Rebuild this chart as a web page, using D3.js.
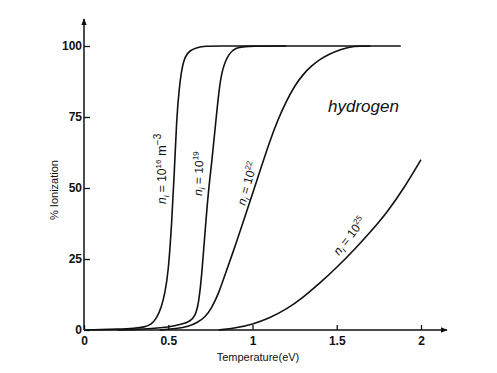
<!DOCTYPE html>
<html>
<head>
<meta charset="utf-8">
<script src="https://cdn.jsdelivr.net/npm/d3@7"></script>
<style>
body{margin:0;background:#fff}
svg{display:block}
.tick text{font-family:"Liberation Sans",Arial,sans-serif;font-size:12px;font-weight:bold;fill:#111}
.lab{font-family:"Liberation Sans",Arial,sans-serif;fill:#111}
</style>
</head>
<body>
<svg id="chart"></svg>
<script>
// ionization curves (T in eV, % ionized)
var t16 = [0,0.1,0.2,0.3,0.36,0.4,0.43,0.46,0.48,0.5,0.52,0.535,0.55,0.565,0.58,0.6,0.63,0.67,0.72,0.8,1.0,1.5,1.88]
var p16 = [0,0.1,0.3,0.6,1,2,4,8,13,20,37,54,75,85,92,96.5,98.5,99.5,100,100,100,100,100]

var t19 = [0.2,0.3,0.4,0.5,0.58,0.63,0.66,0.68,0.7,0.72,0.74,0.76,0.78,0.8,0.82,0.86,0.9,0.95,1.2]
var p19 = [0,0.2,0.5,1,2,3,5,9,20,36,50,60,72,84,92,97.5,99.3,100,100]

var t22 = [0.45,0.55,0.62,0.67,0.72,0.76,0.8,0.84,0.9,0.95,1.0,1.05,1.1,1.15,1.2,1.25,1.3,1.35,1.4,1.45,1.52,1.6,1.7]
var p22 = [0,0.5,1.2,2.5,4.5,8,13,20,30,39,48,57,66,74,80.5,86,90,93,95.3,97,98.8,100,100]

var t25 = [0.8,0.9,1.0,1.1,1.2,1.3,1.4,1.5,1.6,1.7,1.8,1.9,2.0]
var p25 = [0,0.7,2,4.2,7.2,11.5,16.5,22,28,34.5,41.5,50,60]

var xTicks = [0,0.5,1,1.5,2]
var xTickLabels = ["0","0.5","1","1.5","2"]
var yTicks = [0,25,50,75,100]

var makeTranslateString = function(x,y)
{
    return "translate("+x+","+y+")";
}

var screen = {width:497,height:373}
var svg = d3.select("#chart")
    .attr("width",screen.width)
    .attr("height",screen.height)

var xScale = d3.scaleLinear().domain([0,2]).range([84,421])
var yScale = d3.scaleLinear().domain([0,100]).range([330,46])

// arrow head
svg.append("defs").append("marker")
    .attr("id","arr")
    .attr("viewBox","0 0 10 10")
    .attr("refX",9).attr("refY",5)
    .attr("markerWidth",7).attr("markerHeight",7)
    .attr("markerUnits","userSpaceOnUse")
    .attr("orient","auto")
    .append("path")
    .attr("d","M0,1 L10,5 L0,9 Z")
    .attr("fill","#111")

// axes lines with arrows
svg.append("line")
    .attr("x1",xScale(0)).attr("y1",yScale(0))
    .attr("x2",447).attr("y2",yScale(0))
    .attr("stroke","#111").attr("stroke-width",1.5)
    .attr("marker-end","url(#arr)")
svg.append("line")
    .attr("x1",xScale(0)).attr("y1",yScale(0))
    .attr("x2",xScale(0)).attr("y2",19)
    .attr("stroke","#111").attr("stroke-width",1.5)
    .attr("marker-end","url(#arr)")

var xAxis = d3.axisBottom(xScale)
    .tickValues(xTicks)
    .tickFormat(function(d,i){return xTickLabels[i]})
    .tickSize(-5).tickPadding(6)
var yAxis = d3.axisLeft(yScale)
    .tickValues(yTicks)
    .tickSize(-6).tickPadding(2)

var gx = svg.append("g").attr("transform",makeTranslateString(0,yScale(0))).call(xAxis)
var gy = svg.append("g").attr("transform",makeTranslateString(xScale(0),0)).call(yAxis)
gx.select(".domain").remove()
gy.select(".domain").remove()
svg.selectAll(".tick line").attr("stroke","#111").attr("stroke-width",1.3)

// curves
var series = [[t16,p16],[t19,p19],[t22,p22],[t25,p25]]
var line = d3.line()
    .x(function(d){return xScale(d[0])})
    .y(function(d){return yScale(d[1])})
    .curve(d3.curveBasis)

svg.append("g").selectAll("path")
    .data(series)
    .enter()
    .append("path")
    .attr("d",function(s){return line(d3.zip(s[0],s[1]))})
    .attr("fill","none")
    .attr("stroke","#111")
    .attr("stroke-width",1.6)

// curve labels
var labels = [
    {exp:"16",unit:true,x:166,y:204,rot:-90},
    {exp:"19",unit:false,x:202,y:196,rot:-88},
    {exp:"22",unit:false,x:245,y:206,rot:-74},
    {exp:"25",unit:false,x:339,y:256,rot:-52}
]
labels.forEach(function(l)
{
    var t = svg.append("text")
        .attr("class","lab")
        .attr("font-size",12)
        .attr("transform",makeTranslateString(l.x,l.y)+" rotate("+l.rot+")")
    t.append("tspan").text("n").attr("font-style","italic")
    t.append("tspan").text("i").attr("font-size",8).attr("font-style","italic").attr("dy",3)
    t.append("tspan").text(" = 10").attr("dy",-3)
    t.append("tspan").text(l.exp).attr("font-size",8).attr("dy",-5)
    if(l.unit)
    {
        t.append("tspan").text(" m").attr("dy",5).attr("font-size",13)
        t.append("tspan").text("\u22123").attr("font-size",10).attr("dy",-5)
    }
})

svg.append("text")
    .attr("class","lab")
    .attr("x",328).attr("y",112)
    .attr("font-size",17)
    .attr("font-style","italic")
    .attr("font-family","'DejaVu Sans'")
    .style("font-weight","200")
    .text("hydrogen")

svg.append("text")
    .attr("class","lab")
    .attr("x",258).attr("y",361)
    .attr("text-anchor","middle")
    .attr("font-size",11)
    .text("Temperature(eV)")

svg.append("text")
    .attr("class","lab")
    .attr("transform",makeTranslateString(58,190)+" rotate(-90)")
    .attr("text-anchor","middle")
    .attr("font-size",11)
    .text("% Ionization")
</script>
</body>
</html>
